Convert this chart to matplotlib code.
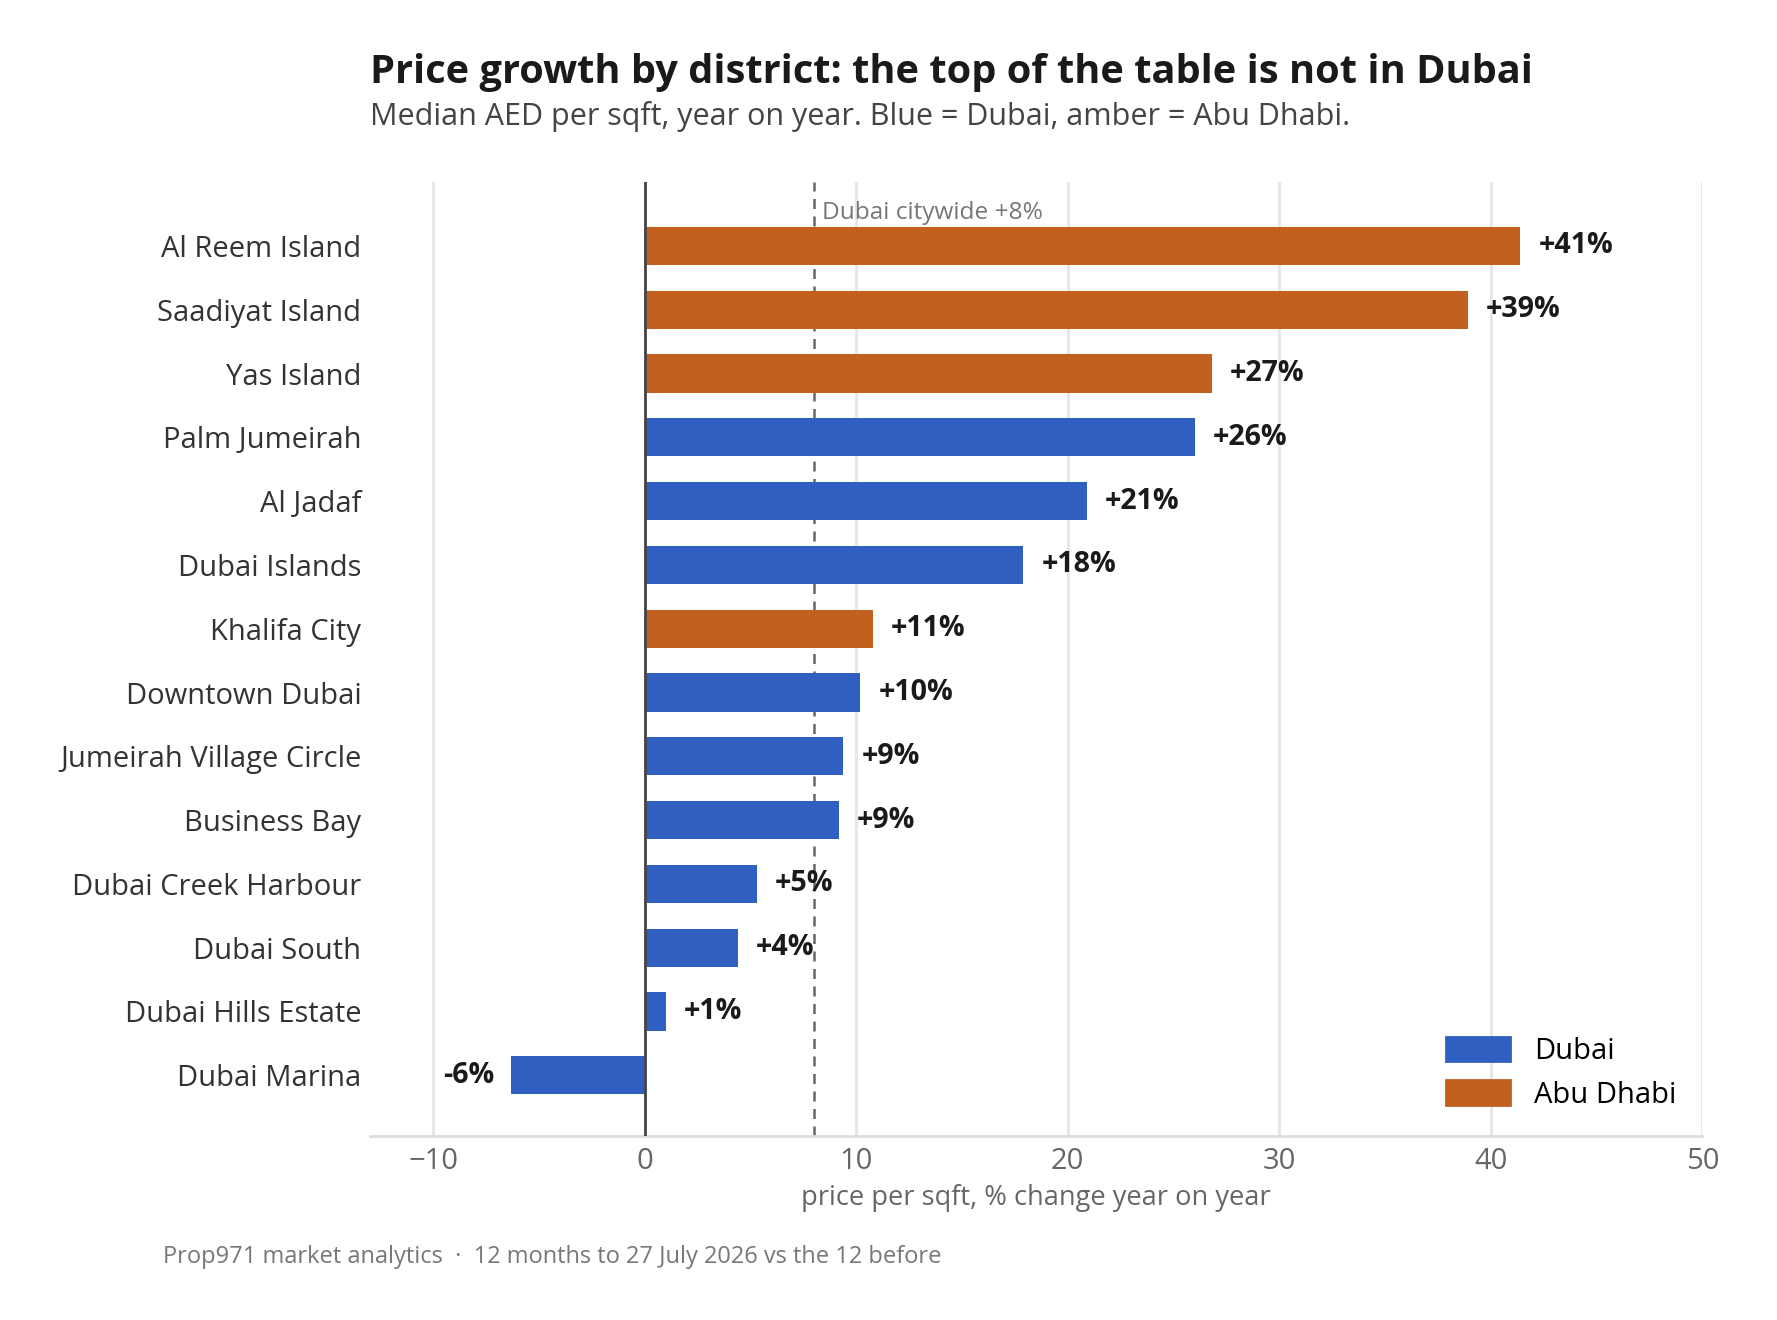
import matplotlib
matplotlib.use("Agg")
import matplotlib.pyplot as plt
from matplotlib.patches import Patch

plt.rcParams['font.family'] = ['Open Sans', 'DejaVu Sans']

districts = ["Al Reem Island", "Saadiyat Island", "Yas Island", "Palm Jumeirah",
             "Al Jadaf", "Dubai Islands", "Khalifa City", "Downtown Dubai",
             "Jumeirah Village Circle", "Business Bay", "Dubai Creek Harbour",
             "Dubai South", "Dubai Hills Estate", "Dubai Marina"]
change = [41.4, 38.9, 26.8, 26.0, 20.9, 17.9, 10.8, 10.2, 9.4, 9.2, 5.3, 4.4, 1.0, -6.3]
city = ["Abu Dhabi", "Abu Dhabi", "Abu Dhabi", "Dubai", "Dubai", "Dubai", "Abu Dhabi",
        "Dubai", "Dubai", "Dubai", "Dubai", "Dubai", "Dubai", "Dubai"]
dubai_citywide = 8

colors = {"Dubai": "#2F5FC0", "Abu Dhabi": "#C1601F"}

fig = plt.figure(figsize=(8.885, 6.6), dpi=200)
ax = fig.add_axes([0.208, 0.1395, 0.750, 0.7225])

ypos = list(range(len(districts)))
ax.barh(ypos, change, height=0.6, color=[colors[c] for c in city], zorder=3)

for y, v in zip(ypos, change):
    lab = f"{v:+.0f}%"
    if v >= 0:
        ax.text(v + 0.85, y, lab, va="center", ha="left", fontsize=10.3,
                fontweight="bold", color="#1a1a1a", zorder=4)
    else:
        ax.text(v - 0.8, y, lab, va="center", ha="right", fontsize=10.3,
                fontweight="bold", color="#1a1a1a", zorder=4)

ax.axvline(0, color="#444444", lw=1.0, zorder=4)
ax.axvline(dubai_citywide, color="#666666", lw=0.9, ls=(0, (4, 3)), zorder=2)
ax.text(dubai_citywide + 0.4, -0.52, f"Dubai citywide +{dubai_citywide}%",
        fontsize=8.8, color="#777777", va="center", ha="left")

ax.set_xlim(-13, 50)
ax.set_ylim(13.95, -1.0)
ax.set_yticks(ypos)
ax.set_yticklabels(districts, fontsize=10.5, color="#333333")
ax.set_xticks([-10, 0, 10, 20, 30, 40, 50])
ax.tick_params(axis="x", labelsize=10.5, colors="#666666", length=0, pad=4)
ax.tick_params(axis="y", length=0, pad=3)
ax.grid(axis="x", color="#e6e6e6", lw=1.0, zorder=0)
ax.set_axisbelow(True)
for s in ["top", "right", "left"]:
    ax.spines[s].set_visible(False)
ax.spines["bottom"].set_color("#dddddd")
ax.spines["bottom"].set_linewidth(1.0)
ax.set_xlabel("price per sqft, % change year on year", fontsize=9.8,
              color="#666666", labelpad=3)

handles = [Patch(color=colors["Dubai"], label="Dubai"),
           Patch(color=colors["Abu Dhabi"], label="Abu Dhabi")]
ax.legend(handles=handles, loc="lower right", frameon=False, fontsize=10.5,
          handlelength=2.2, handleheight=0.9, bbox_to_anchor=(1.0, 0.0))

fig.text(0.208, 0.945, "Price growth by district: the top of the table is not in Dubai",
         fontsize=14.3, fontweight="bold", color="#1a1a1a", va="center", ha="left")
fig.text(0.208, 0.912, "Median AED per sqft, year on year. Blue = Dubai, amber = Abu Dhabi.",
         fontsize=11, color="#444444", va="center", ha="left")
fig.text(0.092, 0.048, "Prop971 market analytics  \u00b7  12 months to 27 July 2026 vs the 12 before",
         fontsize=8.5, color="#777777", va="center", ha="left")

fig.savefig("out.png", dpi=200)
